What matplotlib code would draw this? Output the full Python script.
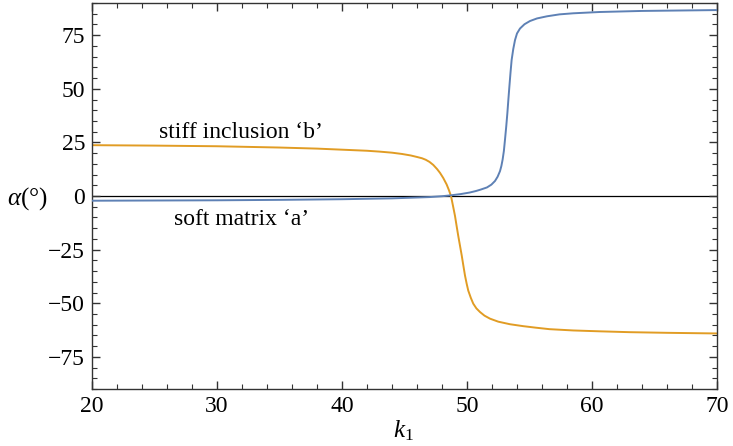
import matplotlib
matplotlib.use("Agg")
import matplotlib.pyplot as plt
from matplotlib.ticker import MultipleLocator

# Values
k_soft = [20, 25, 30, 35, 40, 42, 44, 45, 46, 47, 48, 48.7, 49.5, 50.2, 50.7, 51.1, 51.6,
          51.95, 52.24, 52.45, 52.64, 52.75, 52.85, 52.95, 53.04, 53.14, 53.23, 53.31, 53.39,
          53.48, 53.57, 53.7, 53.84, 54.0, 54.24, 54.6, 55.04, 55.6, 56.4, 57.4, 58.5, 60.6,
          64, 70]
alpha_soft = [-2.2, -2.1, -2.0, -1.8, -1.5, -1.3, -1.1, -0.9, -0.7, -0.5, -0.1, 0.3, 0.9, 1.6,
              2.3, 3.0, 4.0, 5.3, 7.0, 9.0, 11.6, 14.0, 17.0, 21.0, 26.3, 32.5, 38.7, 45.0,
              51.0, 57.5, 63.4, 68.5, 72.7, 75.8, 78.1, 80.1, 81.6, 82.8, 83.8, 84.7, 85.2,
              85.8, 86.3, 86.7]

k_stiff = [20, 25, 30, 35, 38, 40, 42, 43, 44, 44.8, 45.5, 46.0, 46.4, 46.7, 47.0, 47.3,
           47.6, 47.84, 48.1, 48.37, 48.55, 48.72, 48.88, 49.04, 49.17, 49.3, 49.44, 49.58,
           49.71, 49.84, 49.97, 50.1, 50.3, 50.5, 50.75, 51.04, 51.4, 51.84, 52.5, 53.44, 54.5,
           55.5, 56.6, 58.5, 60.6, 63, 66, 70]
alpha_stiff = [23.7, 23.5, 23.2, 22.6, 22.1, 21.6, 21.1, 20.7, 20.2, 19.6, 18.9, 18.2, 17.6,
               16.9, 15.9, 14.5, 12.6, 10.8, 8.4, 5.4, 2.8, 0.0, -4.6, -9.3, -14.0, -18.6,
               -23.2, -27.8, -32.5, -37.1, -40.8, -44.1, -47.4, -50.2, -52.4, -54.1, -55.8,
               -57.2, -58.6, -59.8, -60.7, -61.4, -62.1, -62.7, -63.1, -63.5, -63.8, -64.1]

x_ticks = [20, 30, 40, 50, 60, 70]
y_ticks = [-75, -50, -25, 0, 25, 50, 75]

blue = "#5E81B5"
orange = "#E19C24"

plt.rcParams['font.family'] = ['Liberation Serif', 'DejaVu Serif']
plt.rcParams['mathtext.fontset'] = 'custom'
plt.rcParams['mathtext.rm'] = 'Liberation Serif'
plt.rcParams['mathtext.it'] = 'Liberation Serif:italic'

fig = plt.figure(figsize=(7.33, 4.46), dpi=100)
ax = fig.add_axes([92/733, 1-389/446, (717-92)/733, (389-3)/446])

ax.axhline(0, color="black", lw=0.9, zorder=1)
ax.plot(k_stiff, alpha_stiff, color=orange, lw=1.4, zorder=2, solid_joinstyle="round")
ax.plot(k_soft, alpha_soft, color=blue, lw=1.4, zorder=3, solid_joinstyle="round")

ax.set_xlim(20, 70)
ax.set_ylim(-90, 90)
ax.set_xticks(x_ticks)
ax.set_yticks(y_ticks)
ax.set_yticklabels([("\u2212" + str(-v)) if v < 0 else str(v) for v in y_ticks])
ax.xaxis.set_minor_locator(MultipleLocator(2))
ax.yaxis.set_minor_locator(MultipleLocator(5))

frame_col = "#333333"
for s in ax.spines.values():
    s.set_color(frame_col)
    s.set_linewidth(1.0)
ax.tick_params(which="both", direction="in", top=True, right=True, colors=frame_col,
               labelcolor="black", labelsize=17)
ax.tick_params(which="major", length=6, width=1.0, pad=5)
ax.tick_params(which="minor", length=3.5, width=0.8)

ax.text(31.9, 29.5, "stiff inclusion \u2018b\u2019", fontsize=17, ha="center", va="center")
ax.text(32.0, -10.8, "soft matrix \u2018a\u2019", fontsize=17, ha="center", va="center")

fig.text(27/733, 1-199/446, r"$\alpha$(°)", fontsize=18, ha="center", va="center")
fig.text(403/733, 1-431/446, r"$k_1$", fontsize=18, ha="center", va="center")

fig.savefig("out.png", dpi=100)
